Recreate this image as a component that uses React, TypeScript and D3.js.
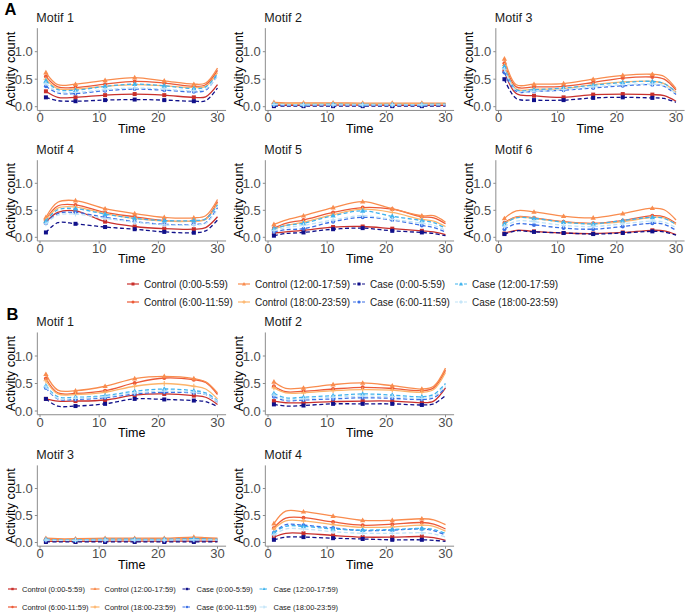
import React from "react";
import * as d3 from "d3";

// ---------- data ----------
const TIMES = [1, 3, 6, 11, 16, 21, 26, 28, 30];
const MARKER_TIMES = [1, 6, 11, 16, 21, 26];
const X_TICKS = [0, 10, 20, 30];
const Y_TICKS = [0, 0.5, 1.0];

const SERIES = [
  "Control (0:00-5:59)",
  "Control (6:00-11:59)",
  "Control (12:00-17:59)",
  "Control (18:00-23:59)",
  "Case (0:00-5:59)",
  "Case (6:00-11:59)",
  "Case (12:00-17:59)",
  "Case (18:00-23:59)",
];

// rows follow SERIES order; columns follow TIMES
const A_MOTIF1 = [
  [0.28, 0.17, 0.17, 0.21, 0.23, 0.21, 0.17, 0.18, 0.40],
  [0.55, 0.36, 0.35, 0.41, 0.46, 0.43, 0.37, 0.40, 0.66],
  [0.62, 0.40, 0.41, 0.48, 0.53, 0.47, 0.41, 0.43, 0.70],
  [0.50, 0.33, 0.32, 0.37, 0.40, 0.38, 0.35, 0.37, 0.62],
  [0.17, 0.11, 0.10, 0.12, 0.13, 0.12, 0.10, 0.11, 0.34],
  [0.37, 0.25, 0.24, 0.29, 0.32, 0.30, 0.27, 0.30, 0.58],
  [0.47, 0.31, 0.30, 0.37, 0.41, 0.38, 0.33, 0.36, 0.60],
  [0.42, 0.27, 0.26, 0.31, 0.34, 0.32, 0.29, 0.32, 0.55],
];
const A_MOTIF2 = [
  [0.03, 0.025, 0.025, 0.03, 0.03, 0.025, 0.025, 0.025, 0.025],
  [0.05, 0.045, 0.05, 0.05, 0.045, 0.045, 0.05, 0.05, 0.05],
  [0.08, 0.07, 0.07, 0.07, 0.065, 0.065, 0.065, 0.065, 0.065],
  [0.06, 0.055, 0.055, 0.055, 0.05, 0.05, 0.05, 0.05, 0.05],
  [0.01, 0.01, 0.01, 0.01, 0.01, 0.01, 0.01, 0.01, 0.01],
  [0.03, 0.025, 0.025, 0.03, 0.025, 0.025, 0.025, 0.03, 0.03],
  [0.05, 0.04, 0.04, 0.045, 0.04, 0.04, 0.04, 0.045, 0.045],
  [0.04, 0.035, 0.035, 0.035, 0.035, 0.035, 0.035, 0.035, 0.035],
];
const A_MOTIF3 = [
  [0.65, 0.24, 0.20, 0.17, 0.22, 0.23, 0.22, 0.20, 0.10],
  [0.79, 0.36, 0.36, 0.37, 0.44, 0.52, 0.54, 0.50, 0.30],
  [0.87, 0.40, 0.41, 0.42, 0.50, 0.57, 0.59, 0.55, 0.33],
  [0.75, 0.32, 0.32, 0.33, 0.40, 0.45, 0.46, 0.42, 0.26],
  [0.50, 0.15, 0.12, 0.12, 0.16, 0.17, 0.16, 0.15, 0.08],
  [0.62, 0.28, 0.28, 0.30, 0.34, 0.38, 0.40, 0.37, 0.22],
  [0.73, 0.31, 0.31, 0.34, 0.39, 0.44, 0.46, 0.42, 0.27],
  [0.68, 0.29, 0.28, 0.31, 0.36, 0.40, 0.41, 0.38, 0.24],
];
const A_MOTIF4 = [
  [0.28, 0.46, 0.49, 0.29, 0.20, 0.16, 0.15, 0.18, 0.38],
  [0.33, 0.58, 0.60, 0.46, 0.38, 0.31, 0.30, 0.34, 0.66],
  [0.37, 0.65, 0.68, 0.53, 0.44, 0.37, 0.36, 0.40, 0.70],
  [0.32, 0.54, 0.56, 0.44, 0.35, 0.30, 0.30, 0.33, 0.63],
  [0.09, 0.27, 0.25, 0.19, 0.15, 0.10, 0.085, 0.12, 0.32],
  [0.26, 0.44, 0.46, 0.37, 0.29, 0.24, 0.24, 0.27, 0.55],
  [0.30, 0.51, 0.53, 0.43, 0.35, 0.31, 0.31, 0.34, 0.60],
  [0.25, 0.41, 0.43, 0.35, 0.28, 0.23, 0.23, 0.26, 0.52],
];
const A_MOTIF5 = [
  [0.08, 0.10, 0.13, 0.19, 0.20, 0.16, 0.12, 0.10, 0.05],
  [0.17, 0.26, 0.32, 0.46, 0.55, 0.52, 0.38, 0.36, 0.25],
  [0.24, 0.32, 0.40, 0.55, 0.66, 0.53, 0.40, 0.40, 0.28],
  [0.15, 0.22, 0.28, 0.42, 0.52, 0.46, 0.33, 0.30, 0.20],
  [0.03, 0.07, 0.09, 0.15, 0.17, 0.12, 0.09, 0.07, 0.03],
  [0.10, 0.14, 0.16, 0.29, 0.37, 0.32, 0.22, 0.18, 0.10],
  [0.16, 0.22, 0.26, 0.40, 0.49, 0.39, 0.31, 0.27, 0.17],
  [0.12, 0.18, 0.22, 0.32, 0.40, 0.33, 0.26, 0.22, 0.13],
];
const A_MOTIF6 = [
  [0.07, 0.13, 0.11, 0.08, 0.07, 0.09, 0.13, 0.12, 0.05],
  [0.27, 0.38, 0.36, 0.29, 0.26, 0.31, 0.40, 0.38, 0.26],
  [0.35, 0.49, 0.47, 0.39, 0.36, 0.44, 0.54, 0.51, 0.32],
  [0.25, 0.37, 0.35, 0.28, 0.25, 0.29, 0.37, 0.36, 0.24],
  [0.06, 0.12, 0.10, 0.08, 0.06, 0.08, 0.11, 0.10, 0.04],
  [0.15, 0.25, 0.23, 0.17, 0.15, 0.20, 0.26, 0.24, 0.13],
  [0.25, 0.36, 0.35, 0.28, 0.25, 0.31, 0.37, 0.35, 0.24],
  [0.20, 0.30, 0.29, 0.22, 0.20, 0.25, 0.30, 0.28, 0.18],
];
const B_MOTIF1 = [
  [0.22, 0.18, 0.18, 0.20, 0.29, 0.31, 0.28, 0.25, 0.12],
  [0.59, 0.33, 0.32, 0.37, 0.51, 0.60, 0.57, 0.52, 0.30],
  [0.67, 0.38, 0.37, 0.45, 0.59, 0.63, 0.59, 0.53, 0.33],
  [0.55, 0.31, 0.30, 0.34, 0.45, 0.50, 0.45, 0.40, 0.22],
  [0.22, 0.09, 0.09, 0.13, 0.22, 0.21, 0.19, 0.17, 0.08],
  [0.42, 0.22, 0.21, 0.24, 0.31, 0.34, 0.33, 0.30, 0.16],
  [0.46, 0.26, 0.25, 0.28, 0.36, 0.40, 0.37, 0.33, 0.19],
  [0.44, 0.23, 0.23, 0.26, 0.33, 0.36, 0.34, 0.30, 0.17],
];
const B_MOTIF2 = [
  [0.18, 0.15, 0.15, 0.17, 0.18, 0.18, 0.15, 0.18, 0.42],
  [0.45, 0.35, 0.36, 0.40, 0.43, 0.41, 0.37, 0.42, 0.74],
  [0.53, 0.41, 0.42, 0.48, 0.51, 0.46, 0.40, 0.45, 0.78],
  [0.42, 0.33, 0.33, 0.37, 0.39, 0.38, 0.34, 0.39, 0.70],
  [0.12, 0.09, 0.10, 0.13, 0.13, 0.13, 0.11, 0.13, 0.28],
  [0.26, 0.19, 0.20, 0.22, 0.24, 0.23, 0.21, 0.24, 0.42],
  [0.32, 0.24, 0.25, 0.28, 0.31, 0.29, 0.26, 0.30, 0.50],
  [0.29, 0.21, 0.22, 0.25, 0.27, 0.26, 0.23, 0.27, 0.46],
];
const B_MOTIF3 = [
  [0.02, 0.02, 0.02, 0.025, 0.025, 0.025, 0.025, 0.025, 0.02],
  [0.06, 0.055, 0.055, 0.06, 0.06, 0.06, 0.07, 0.07, 0.06],
  [0.08, 0.07, 0.07, 0.08, 0.08, 0.08, 0.10, 0.09, 0.08],
  [0.05, 0.045, 0.05, 0.05, 0.05, 0.05, 0.06, 0.06, 0.05],
  [0.01, 0.01, 0.01, 0.01, 0.01, 0.01, 0.01, 0.01, 0.01],
  [0.04, 0.035, 0.035, 0.04, 0.04, 0.04, 0.045, 0.045, 0.04],
  [0.06, 0.05, 0.05, 0.06, 0.06, 0.06, 0.07, 0.065, 0.06],
  [0.045, 0.04, 0.04, 0.045, 0.045, 0.045, 0.05, 0.05, 0.045],
];
const B_MOTIF4 = [
  [0.10, 0.17, 0.17, 0.13, 0.10, 0.10, 0.11, 0.09, 0.04],
  [0.27, 0.45, 0.46, 0.38, 0.32, 0.34, 0.37, 0.34, 0.25],
  [0.35, 0.58, 0.57, 0.49, 0.41, 0.41, 0.44, 0.42, 0.33],
  [0.25, 0.40, 0.40, 0.33, 0.28, 0.29, 0.32, 0.30, 0.21],
  [0.05, 0.10, 0.10, 0.08, 0.065, 0.05, 0.05, 0.04, 0.02],
  [0.18, 0.33, 0.32, 0.27, 0.22, 0.23, 0.25, 0.22, 0.14],
  [0.18, 0.30, 0.30, 0.25, 0.23, 0.24, 0.26, 0.24, 0.17],
  [0.14, 0.25, 0.25, 0.20, 0.17, 0.17, 0.18, 0.16, 0.10],
];

// ---------- styles ----------
const COLORS = ["#c9302c", "#ec5a38", "#f98c4e", "#fdb46a", "#10108a", "#3b6fe6", "#3fb3ee", "#bfe3f8"];
const DASHED = [false, false, false, false, true, true, true, true];
const SHAPES = ["square", "circle", "triangle", "plus", "square", "circle", "triangle", "plus"];
const FONT = "'Liberation Sans', Arial, Helvetica, sans-serif";

const COL_X0 = [40, 268, 498.5];
const PX_PER_T = 5.917;
const ROW_Y0 = [106.7, 237.3, 411, 542.5];
const ROW_K = [55, 54, 55, 54];

const PANELS = [
  { title: "Motif 1", data: A_MOTIF1, col: 0, row: 0 },
  { title: "Motif 2", data: A_MOTIF2, col: 1, row: 0 },
  { title: "Motif 3", data: A_MOTIF3, col: 2, row: 0 },
  { title: "Motif 4", data: A_MOTIF4, col: 0, row: 1 },
  { title: "Motif 5", data: A_MOTIF5, col: 1, row: 1 },
  { title: "Motif 6", data: A_MOTIF6, col: 2, row: 1 },
  { title: "Motif 1", data: B_MOTIF1, col: 0, row: 2 },
  { title: "Motif 2", data: B_MOTIF2, col: 1, row: 2 },
  { title: "Motif 3", data: B_MOTIF3, col: 0, row: 3 },
  { title: "Motif 4", data: B_MOTIF4, col: 1, row: 3 },
];

function Marker({ shape, x, y, color, s }: { shape: string; x: number; y: number; color: string; s: number }) {
  if (shape === "square")
    return <rect x={x - s / 2} y={y - s / 2} width={s} height={s} fill={color} />;
  if (shape === "circle") return <circle cx={x} cy={y} r={s / 2} fill={color} />;
  if (shape === "triangle") {
    const h = s * 1.15;
    return (
      <path
        d={`M${x},${y - h * 0.6}L${x + h * 0.58},${y + h * 0.4}L${x - h * 0.58},${y + h * 0.4}Z`}
        fill={color}
      />
    );
  }
  return (
    <path
      d={`M${x - s * 0.6},${y}H${x + s * 0.6}M${x},${y - s * 0.6}V${y + s * 0.6}`}
      stroke={color}
      strokeWidth={1.1}
      fill="none"
    />
  );
}

function Panel({ p }: { p: (typeof PANELS)[number] }) {
  const x0 = COL_X0[p.col];
  const y0 = ROW_Y0[p.row];
  const k = ROW_K[p.row];
  const x = d3
    .scaleLinear()
    .domain([-0.45, 31.45])
    .range([x0 - 0.45 * PX_PER_T, x0 + 31.45 * PX_PER_T]);
  const y = d3
    .scaleLinear()
    .domain([-0.068, 1.428])
    .range([y0 + 0.068 * k, y0 - 1.428 * k]);
  const [xl, xr] = x.range();
  const [yb, yt] = y.range();
  const line = d3
    .line<number>()
    .x((_, i) => x(TIMES[i]))
    .y((v) => y(v))
    .curve(d3.curveCatmullRom.alpha(0.5));
  const fmt = d3.format(".1f");
  const axisColor = "#8c8c8c";
  const tickColor = "#4d4d4d";
  return (
    <g>
      <text x={xl - 1} y={yt - 6} fontSize={12.5} fill="#1a1a1a" fontFamily={FONT}>
        {p.title}
      </text>
      {/* axes */}
      <line x1={xl} x2={xl} y1={yt} y2={yb} stroke={axisColor} strokeWidth={1} />
      <line x1={xl} x2={xr} y1={yb} y2={yb} stroke={axisColor} strokeWidth={1} />
      {Y_TICKS.map((t) => (
        <g key={"y" + t}>
          <line x1={xl - 2.5} x2={xl} y1={y(t)} y2={y(t)} stroke={axisColor} />
          <text
            x={xl - 4.5}
            y={y(t)}
            dy="0.35em"
            textAnchor="end"
            fontSize={13}
            fill={tickColor}
            fontFamily={FONT}
          >
            {fmt(t)}
          </text>
        </g>
      ))}
      {X_TICKS.map((t) => (
        <g key={"x" + t}>
          <line x1={x(t)} x2={x(t)} y1={yb} y2={yb + 2.5} stroke={axisColor} />
          <text
            x={x(t)}
            y={yb + 11.8}
            textAnchor="middle"
            fontSize={13}
            fill={tickColor}
            fontFamily={FONT}
          >
            {t}
          </text>
        </g>
      ))}
      <text
        x={(xl + xr) / 2}
        y={yb + 22.5}
        textAnchor="middle"
        fontSize={12.5}
        fill="#000"
        fontFamily={FONT}
      >
        Time
      </text>
      <text
        transform={`translate(${x0 - 25.5},${(yt + yb) / 2}) rotate(-90)`}
        textAnchor="middle"
        fontSize={12.8}
        fill="#000"
        fontFamily={FONT}
      >
        Activity count
      </text>
      {/* series */}
      {p.data.map((vals, si) => (
        <g key={si}>
          <path
            d={line(vals) || ""}
            fill="none"
            stroke={COLORS[si]}
            strokeWidth={1.3}
            strokeDasharray={DASHED[si] ? "4,2.5" : undefined}
          />
          {MARKER_TIMES.map((t) => {
            const i = TIMES.indexOf(t);
            return (
              <Marker key={t} shape={SHAPES[si]} x={x(t)} y={y(vals[i])} color={COLORS[si]} s={4} />
            );
          })}
        </g>
      ))}
    </g>
  );
}

function Legend({
  cols,
  rows,
  half,
  textOff,
  fontSize,
  ms,
}: {
  cols: number[];
  rows: number[];
  half: number;
  textOff: number;
  fontSize: number;
  ms: number;
}) {
  return (
    <g>
      {SERIES.map((name, i) => {
        const cx = cols[Math.floor(i / 2)];
        const cy = rows[i % 2];
        return (
          <g key={name}>
            <line
              x1={cx - half}
              x2={cx + half}
              y1={cy}
              y2={cy}
              stroke={COLORS[i]}
              strokeWidth={1.2}
              strokeDasharray={DASHED[i] ? "3,1.5" : undefined}
            />
            <Marker shape={SHAPES[i]} x={cx} y={cy} color={COLORS[i]} s={ms} />
            <text
              x={cx + textOff}
              y={cy}
              dy="0.35em"
              fontSize={fontSize}
              fill="#1a1a1a"
              fontFamily={FONT}
            >
              {name}
            </text>
          </g>
        );
      })}
    </g>
  );
}

export default function App() {
  return (
    <svg
      width={685}
      height={613}
      style={{ position: "absolute", left: 0, top: 0, background: "#fff" }}
    >
      <rect width={685} height={613} fill="#fff" />
      <text x={4.5} y={15} fontSize={16.5} fontWeight="bold" fontFamily={FONT}>
        A
      </text>
      <text x={6.5} y={320} fontSize={16.5} fontWeight="bold" fontFamily={FONT}>
        B
      </text>
      {PANELS.map((p, i) => (
        <Panel key={i} p={p} />
      ))}
      <Legend cols={[133, 244, 359, 461]} rows={[284, 302]} half={6} textOff={11} fontSize={10} ms={3} />
      <Legend cols={[12.5, 95, 187, 264]} rows={[589, 607]} half={4.5} textOff={9.5} fontSize={7.5} ms={2.4} />
    </svg>
  );
}
